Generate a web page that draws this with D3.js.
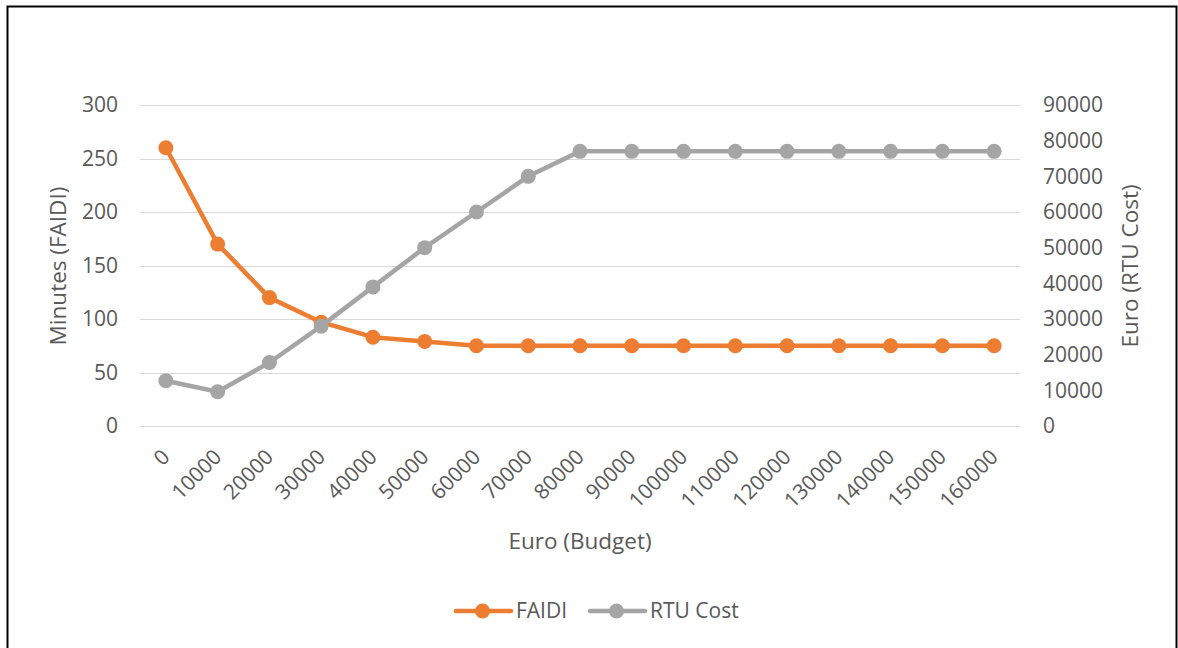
<!DOCTYPE html>
<html>
<head>
<meta charset="utf-8">
<script src="https://cdn.jsdelivr.net/npm/d3@7"></script>
<style>
  body { margin: 0; background: #fff; }
  text { font-family: "Open Sans", "Noto Sans", sans-serif; fill: #595959; }
</style>
</head>
<body>
<svg id="chart" width="1178" height="648"></svg>
<script>
// budget steps (x axis)
var budgets = [0, 10000, 20000, 30000, 40000, 50000, 60000, 70000, 80000, 90000,
               100000, 110000, 120000, 130000, 140000, 150000, 160000];
// FAIDI minutes (left axis)
var faidi = [260, 170, 120, 97, 83, 79, 75, 75, 75, 75, 75, 75, 75, 75, 75, 75, 75];
// RTU cost euro (right axis)
var rtuCost = [12700, 9600, 17800, 28000, 39000, 50000, 60000, 70000, 77000, 77000,
               77000, 77000, 77000, 77000, 77000, 77000, 77000];
var leftTicks = [0, 50, 100, 150, 200, 250, 300];
var rightTicks = [0, 10000, 20000, 30000, 40000, 50000, 60000, 70000, 80000, 90000];

var orange = "#ED7D31", grey = "#A5A5A5";

var svg = d3.select("#chart");

// outer frame (bottom edge is cut off in the original)
svg.append("path")
    .attr("d", "M7.5,700 V6.5 H1176.5 V700")
    .attr("fill", "none")
    .attr("stroke", "#000")
    .attr("stroke-width", 2);

var x = d3.scaleBand().domain(budgets).range([140, 1020]).padding(0);
var yL = d3.scaleLinear().domain([0, 300]).range([426, 105]);
var yR = d3.scaleLinear().domain([0, 90000]).range([426, 105]);
var cx = function(b) { return x(b) + x.bandwidth() / 2; };

// gridlines
svg.append("g").selectAll("line")
    .data(leftTicks)
    .join("line")
    .attr("x1", 140).attr("x2", 1020)
    .attr("y1", d => Math.round(yL(d)) + 0.5)
    .attr("y2", d => Math.round(yL(d)) + 0.5)
    .attr("stroke", "#D9D9D9")
    .attr("stroke-width", 1.2);

// left axis labels
var axL = svg.append("g").attr("transform", "translate(118,0)")
    .call(d3.axisLeft(yL).tickValues(leftTicks).tickSize(0).tickPadding(0));
axL.select(".domain").remove();
axL.selectAll("text").style("font-size", "21px").attr("fill", "#595959");

// right axis labels
var axR = svg.append("g").attr("transform", "translate(1043,0)")
    .call(d3.axisRight(yR).tickValues(rightTicks).tickFormat(d3.format("d"))
        .tickSize(0).tickPadding(0));
axR.select(".domain").remove();
axR.selectAll("text").style("font-size", "21px").attr("fill", "#595959");

// x labels, rotated
svg.append("g").selectAll("text")
    .data(budgets)
    .join("text")
    .attr("transform", d => "translate(" + cx(d) + ",453) rotate(-45)")
    .attr("text-anchor", "end")
    .attr("dy", "0.35em")
    .style("font-size", "21px")
    .text(d => d);

// axis titles
svg.append("text")
    .attr("transform", "translate(58,266) rotate(-90)")
    .attr("text-anchor", "middle")
    .attr("dy", "0.35em")
    .style("font-size", "22.5px")
    .text("Minutes (FAIDI)");

svg.append("text")
    .attr("transform", "translate(1130,266) rotate(-90)")
    .attr("text-anchor", "middle")
    .attr("dy", "0.35em")
    .style("font-size", "22.5px")
    .text("Euro (RTU Cost)");

svg.append("text")
    .attr("x", 580).attr("y", 541)
    .attr("text-anchor", "middle")
    .attr("dy", "0.35em")
    .style("font-size", "22.5px")
    .text("Euro (Budget)");

function drawSeries(vals, yScale, color) {
    var pts = budgets.map((b, i) => [cx(b), yScale(vals[i])]);
    svg.append("path")
        .attr("d", d3.line()(pts))
        .attr("fill", "none")
        .attr("stroke", color)
        .attr("stroke-width", 4.5)
        .attr("stroke-linejoin", "round")
        .attr("stroke-linecap", "round");
    svg.append("g").selectAll("circle")
        .data(pts)
        .join("circle")
        .attr("cx", d => d[0]).attr("cy", d => d[1])
        .attr("r", 7.5)
        .attr("fill", color);
}

drawSeries(faidi, yL, orange);
drawSeries(rtuCost, yR, grey);

// legend
var legend = [
    { name: "FAIDI", color: orange, x: 456 },
    { name: "RTU Cost", color: grey, x: 590 }
];
var lg = svg.append("g").selectAll("g").data(legend).join("g")
    .attr("transform", d => "translate(" + d.x + ",611)");
lg.append("line")
    .attr("x1", 0).attr("x2", 55)
    .attr("stroke", d => d.color)
    .attr("stroke-width", 4.5)
    .attr("stroke-linecap", "round");
lg.append("circle").attr("cx", 26.5).attr("r", 7.5).attr("fill", d => d.color);
lg.append("text")
    .attr("x", 60).attr("dy", "0.35em")
    .style("font-size", "21px")
    .text(d => d.name);
</script>
</body>
</html>
